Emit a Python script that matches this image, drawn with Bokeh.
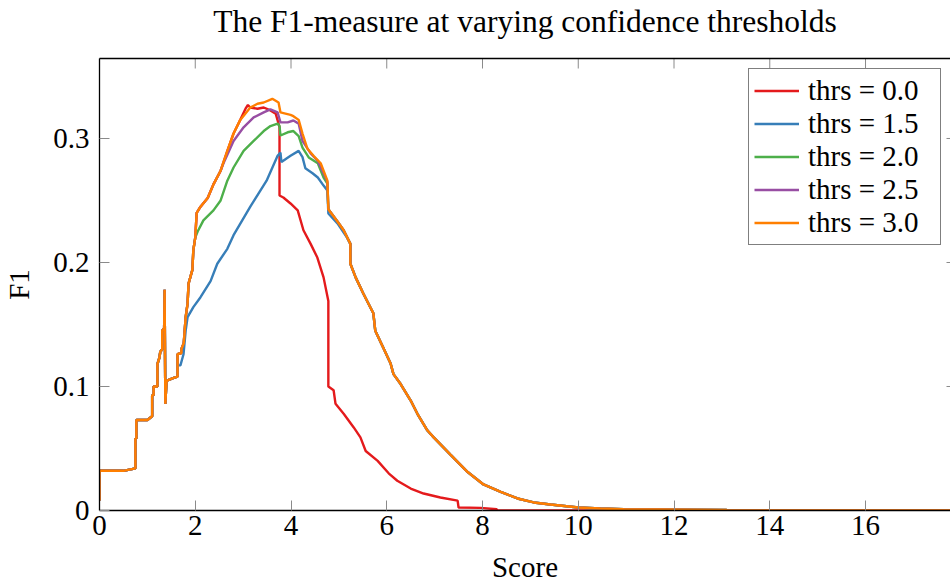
import math
from bokeh.plotting import figure
from bokeh.models import (LinearAxis, FixedTicker, Range1d, Legend, LegendItem,
                          CustomJSTickFormatter, Grid)
from bokeh.embed import file_html
from bokeh.resources import INLINE

# ---------------- data ----------------
title_text = "The F1-measure at varying confidence thresholds"
legend_labels = ["thrs = 0.0", "thrs = 1.5", "thrs = 2.0", "thrs = 2.5", "thrs = 3.0"]
colors = ["#e41a1c", "#377eb8", "#4daf4a", "#984ea3", "#ff7f00"]
x_ticks = [0, 2, 4, 6, 8, 10, 12, 14, 16]
y_ticks = [0, 0.1, 0.2, 0.3]
x_limits = (0, 17.775)
y_limits = (0, 0.3645)

# segment shared by every threshold (low scores)
start_x = [0.0, 0.0, 0.02, 0.50, 0.75, 0.75, 0.77, 0.77, 1.00, 1.10, 1.10, 1.13, 1.13,
           1.21, 1.21, 1.25, 1.27, 1.31, 1.31, 1.35, 1.36, 1.375, 1.40, 1.42, 1.55, 1.63]
start_y = [0.008, 0.032, 0.032, 0.032, 0.034, 0.058, 0.058, 0.073, 0.073, 0.076, 0.093, 0.093, 0.100,
           0.100, 0.118, 0.123, 0.128, 0.130, 0.145, 0.147, 0.178, 0.086, 0.104, 0.105, 0.107, 0.108]

# rise shared by thrs 0.0, 2.0, 2.5, 3.0
rise_x = [1.63, 1.71, 1.71, 1.76, 1.80, 1.84, 1.86, 1.94, 1.96, 2.00]
rise_y = [0.126, 0.127, 0.130, 0.135, 0.156, 0.167, 0.183, 0.194, 0.210, 0.220]

# early part shared by thrs 0.0, 2.5, 3.0
early_x = [2.03, 2.11, 2.26, 2.38, 2.53]
early_y = [0.240, 0.245, 0.252, 0.263, 0.274]

red_x = [2.67, 2.80, 2.94, 3.05, 3.10, 3.15, 3.30, 3.43, 3.57, 3.68, 3.74, 3.76, 3.76, 3.84,
         3.99, 4.14, 4.26, 4.41, 4.55, 4.68, 4.78, 4.78, 4.89, 4.93, 5.10, 5.31, 5.45, 5.56,
         5.81, 6.04, 6.22, 6.50, 6.77, 7.12, 7.48, 7.50, 7.96, 8.30, 8.30, 17.80]
red_y = [0.290, 0.304, 0.315, 0.324, 0.327, 0.325, 0.324, 0.325, 0.3226, 0.320, 0.312, 0.309, 0.254, 0.2524,
         0.2476, 0.242, 0.226, 0.215, 0.204, 0.188, 0.169, 0.100, 0.097, 0.086, 0.078, 0.067, 0.059, 0.048,
         0.040, 0.030, 0.024, 0.0177, 0.0137, 0.0105, 0.008, 0.0024, 0.0021, 0.001, 0.0, 0.0]

blue_x = [1.63, 1.69, 1.755, 1.80, 1.84, 1.96, 2.11, 2.32, 2.46, 2.67, 2.80, 3.15, 3.49, 3.72, 3.78,
          3.80, 3.99, 4.16, 4.24, 4.30, 4.45, 4.56, 4.68, 4.76, 4.78, 4.97, 5.17]
blue_y = [0.117, 0.117, 0.126, 0.145, 0.156, 0.164, 0.172, 0.185, 0.199, 0.211, 0.222, 0.245, 0.266, 0.286, 0.2887,
          0.281, 0.286, 0.290, 0.285, 0.276, 0.272, 0.2685, 0.262, 0.258, 0.2395, 0.2315, 0.220]

green_x = [2.05, 2.17, 2.38, 2.53, 2.67, 2.80, 3.01, 3.22, 3.43, 3.57, 3.72, 3.76, 3.78, 3.93,
           4.05, 4.16, 4.24, 4.37, 4.56, 4.68, 4.76]
green_y = [0.225, 0.234, 0.242, 0.250, 0.266, 0.2766, 0.290, 0.298, 0.306, 0.310, 0.312, 0.310, 0.3024, 0.305,
           0.306, 0.302, 0.2927, 0.2847, 0.280, 0.2685, 0.2637]

purple_x = [2.59, 2.80, 3.01, 3.22, 3.43, 3.57, 3.72, 3.78, 3.93, 4.05, 4.16, 4.24, 4.41, 4.56, 4.68, 4.76]
purple_y = [0.280, 0.298, 0.309, 0.317, 0.321, 0.3234, 0.321, 0.313, 0.313, 0.3145, 0.312, 0.298, 0.288,
            0.282, 0.272, 0.265]

orange_x = [2.67, 2.80, 2.94, 3.15, 3.30, 3.43, 3.61, 3.74, 3.78, 3.99, 4.05, 4.16, 4.24, 4.34,
            4.47, 4.62, 4.68, 4.76]
orange_y = [0.290, 0.304, 0.315, 0.325, 0.328, 0.329, 0.332, 0.329, 0.321, 0.319, 0.318, 0.315, 0.304, 0.292,
            0.286, 0.280, 0.274, 0.266]

# part shared by thrs 2.0, 2.5, 3.0 after the drop at ~4.78
merge_x = [4.78, 4.97, 5.10]
merge_y = [0.243, 0.233, 0.226]

# tail shared by thrs 1.5 .. 3.0
tail_x = [5.24, 5.24, 5.35, 5.51, 5.72, 5.76, 5.93, 6.08, 6.14, 6.29, 6.50, 6.64, 6.85, 6.98, 7.33,
          7.69, 8.02, 8.38, 8.73, 9.07, 9.42, 10.00, 10.46, 10.95, 13.10, 13.10, 17.80]
tail_y = [0.215, 0.199, 0.188, 0.175, 0.159, 0.145, 0.131, 0.1185, 0.110, 0.102, 0.0887, 0.078, 0.0645,
          0.059, 0.045, 0.031, 0.021, 0.015, 0.0097, 0.0065, 0.0048, 0.0024, 0.0016, 0.001, 0.0005, 0.0, 0.0]

series_x = [
    start_x + rise_x + early_x + red_x,
    start_x + blue_x + tail_x,
    start_x + rise_x + green_x + merge_x + tail_x,
    start_x + rise_x + early_x + purple_x + merge_x + tail_x,
    start_x + rise_x + early_x + orange_x + merge_x + tail_x,
]
series_y = [
    start_y + rise_y + early_y + red_y,
    start_y + blue_y + tail_y,
    start_y + rise_y + green_y + merge_y + tail_y,
    start_y + rise_y + early_y + purple_y + merge_y + tail_y,
    start_y + rise_y + early_y + orange_y + merge_y + tail_y,
]

# ---------------- figure ----------------
FONT = "Liberation Serif, DejaVu Serif, serif"
FS = "29px"
TICK_COLOR = "#8a8a8a"

p = figure(width=950, height=585,
           x_range=Range1d(*x_limits), y_range=Range1d(*y_limits),
           output_backend="svg", toolbar_location=None,
           x_axis_location=None, y_axis_location=None,
           min_border_left=99, min_border_right=0, min_border_top=58, min_border_bottom=75)
p.outline_line_color = None
p.background_fill_color = "white"
p.border_fill_color = "white"
p.title_location = None
p.center = [r for r in p.center if not isinstance(r, Grid)]


def style_axis(ax):
    ax.axis_line_color = "black"
    ax.axis_line_width = 1.3
    ax.major_tick_in = 10
    ax.major_tick_out = 0
    ax.major_tick_line_color = TICK_COLOR
    ax.major_tick_line_width = 1
    ax.minor_tick_line_color = None
    ax.major_label_text_font = FONT
    ax.major_label_text_font_size = FS
    ax.major_label_text_color = "black"
    ax.axis_label_text_font = FONT
    ax.axis_label_text_font_style = "normal"
    ax.axis_label_text_font_size = FS
    ax.axis_label_text_color = "black"


xb = LinearAxis(ticker=FixedTicker(ticks=x_ticks),
                formatter=CustomJSTickFormatter(code="return tick.toFixed(0);"),
                axis_label="Score")
style_axis(xb)
xb.major_label_standoff = 5
xb.axis_label_standoff = 13
p.add_layout(xb, "below")

yl = LinearAxis(ticker=FixedTicker(ticks=y_ticks),
                formatter=CustomJSTickFormatter(code="return tick == 0 ? '0' : tick.toFixed(1);"),
                axis_label="F1")
style_axis(yl)
yl.major_label_standoff = 10
yl.axis_label_standoff = 15
p.add_layout(yl, "left")

# top frame line; its axis label carries the chart title
xt = LinearAxis(ticker=FixedTicker(ticks=[]), axis_label=title_text)
xt.axis_line_color = "black"
xt.axis_line_width = 1.3
xt.major_tick_in = 0
xt.major_tick_out = 0
xt.major_tick_line_color = None
xt.minor_tick_line_color = None
xt.axis_label_text_font = FONT
xt.axis_label_text_font_size = "31.5px"
xt.axis_label_text_font_style = "normal"
xt.axis_label_text_color = "black"
xt.axis_label_standoff = 20
p.add_layout(xt, "above")

# inward tick marks on the top and right edges (pgfplots box style)
p.scatter(x=x_ticks, y=[y_limits[1]] * len(x_ticks), marker="dash", angle=math.pi / 2,
          size=20, line_color=TICK_COLOR, line_width=1)
p.scatter(x=[x_limits[1]] * len(y_ticks), y=y_ticks, marker="dash",
          size=8, line_color=TICK_COLOR, line_width=1)

items = []
for lab, col, xs, ys in zip(legend_labels, colors, series_x, series_y):
    r = p.line(xs, ys, line_color=col, line_width=2.4)
    items.append(LegendItem(label=lab, renderers=[r]))

legend = Legend(items=items, location=(649, 265))
legend.label_text_font = FONT
legend.label_text_font_size = FS
legend.label_text_color = "black"
legend.border_line_color = "black"
legend.border_line_width = 1.2
legend.background_fill_color = "white"
legend.background_fill_alpha = 1.0
legend.padding = 5
legend.spacing = 0
legend.glyph_width = 45
legend.glyph_height = 33
legend.label_height = 33
legend.label_width = 127
legend.label_standoff = 9
legend.margin = 0
p.add_layout(legend, "center")

open("out.html", "w").write(file_html(p, INLINE))
